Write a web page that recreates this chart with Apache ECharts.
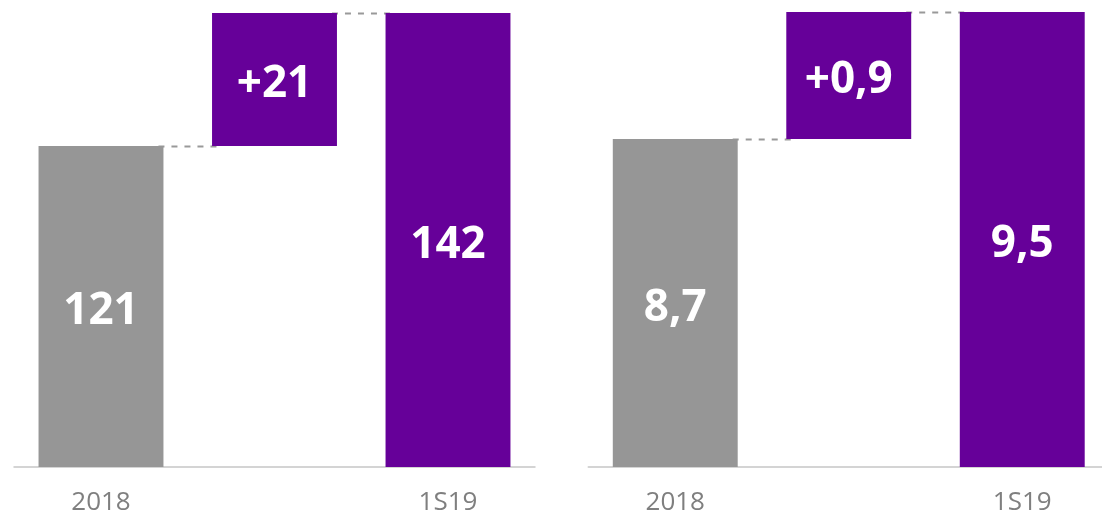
<!DOCTYPE html>
<html>
<head>
<meta charset="utf-8">
<script src="https://cdn.jsdelivr.net/npm/echarts@6/dist/echarts.min.js"></script>
<style>
html,body{margin:0;padding:0;background:#fff;overflow:hidden;width:1102px;height:518px;}
#chart{width:1112px;height:518px;}
</style>
</head>
<body>
<div id="chart"></div>
<script>
// ---- data ----
const categories = ['2018', '', '1S19'];
const leftValues = [121, 142];      // start, end
const rightValues = [8.66, 9.54];   // start, end (shown with one decimal)

const GRAY = '#969696';
const PURPLE = '#660099';
const FONT = "'Segoe UI', 'Open Sans', sans-serif";

function fmtInt(v) { return String(Math.round(v)); }
function fmtDec(v) { return v.toFixed(1).replace('.', ','); }

function buildSeries(idx, vals, fmt) {
  const start = vals[0], end = vals[1], delta = end - start;
  const base = [0, start, 0];
  const shown = [
    { value: start, itemStyle: { color: GRAY } },
    { value: delta, itemStyle: { color: PURPLE } },
    { value: end, itemStyle: { color: PURPLE } }
  ];
  return [
    {
      type: 'custom', xAxisIndex: idx, yAxisIndex: idx, z: 1,
      data: [[0, start], [1, end]],
      encode: { x: 0, y: 1 },
      renderItem: function (params, api) {
        const i = api.value(0), v = api.value(1);
        const p0 = api.coord([i, v]);
        const p1 = api.coord([i + 1, v]);
        const bw = api.size([1, 0])[0] * 0.72;
        return {
          type: 'line',
          shape: { x1: p0[0] + bw / 2 - 5, y1: p0[1] + 0.5, x2: p1[0] - bw / 2 + 5, y2: p1[1] + 0.5 },
          style: { stroke: '#999999', lineWidth: 2, lineDash: [6, 7] }
        };
      }
    },
    {
      type: 'bar', xAxisIndex: idx, yAxisIndex: idx, stack: 's' + idx, z: 2,
      barWidth: '72%', silent: true,
      itemStyle: { color: 'transparent' },
      data: base
    },
    {
      type: 'bar', xAxisIndex: idx, yAxisIndex: idx, stack: 's' + idx, z: 3,
      barWidth: '72%', clip: true,
      label: {
        show: true, position: 'inside', color: '#fff', offset: [0, 5],
        fontSize: 44, fontWeight: 'bold', fontFamily: FONT,
        formatter: function (p) {
          return (p.dataIndex === 1 ? '+' : '') + fmt(p.value);
        }
      },
      data: shown
    }
  ];
}

function xAxisCfg(idx) {
  return {
    type: 'category', gridIndex: idx, data: categories,
    axisLine: { lineStyle: { color: '#d4d4d4', width: 2 } },
    axisTick: { show: false },
    axisLabel: { color: '#7f7f7f', fontSize: 26, fontFamily: FONT, margin: 23, interval: 0 }
  };
}

const chart = echarts.init(document.getElementById('chart'), null, { renderer: 'canvas' });
chart.setOption({
  animation: false,
  backgroundColor: '#fff',
  grid: [
    { left: 14.25, width: 520.5, top: 13, bottom: 51 },
    { left: 588.5, width: 520.5, top: 12, bottom: 51 }
  ],
  xAxis: [xAxisCfg(0), xAxisCfg(1)],
  yAxis: [
    { type: 'value', gridIndex: 0, min: 70.3, max: 142, show: false, splitLine: { show: false } },
    { type: 'value', gridIndex: 1, min: 6.387, max: 9.54, show: false, splitLine: { show: false } }
  ],
  series: buildSeries(0, leftValues, fmtInt).concat(buildSeries(1, rightValues, fmtDec))
});
</script>
</body>
</html>
